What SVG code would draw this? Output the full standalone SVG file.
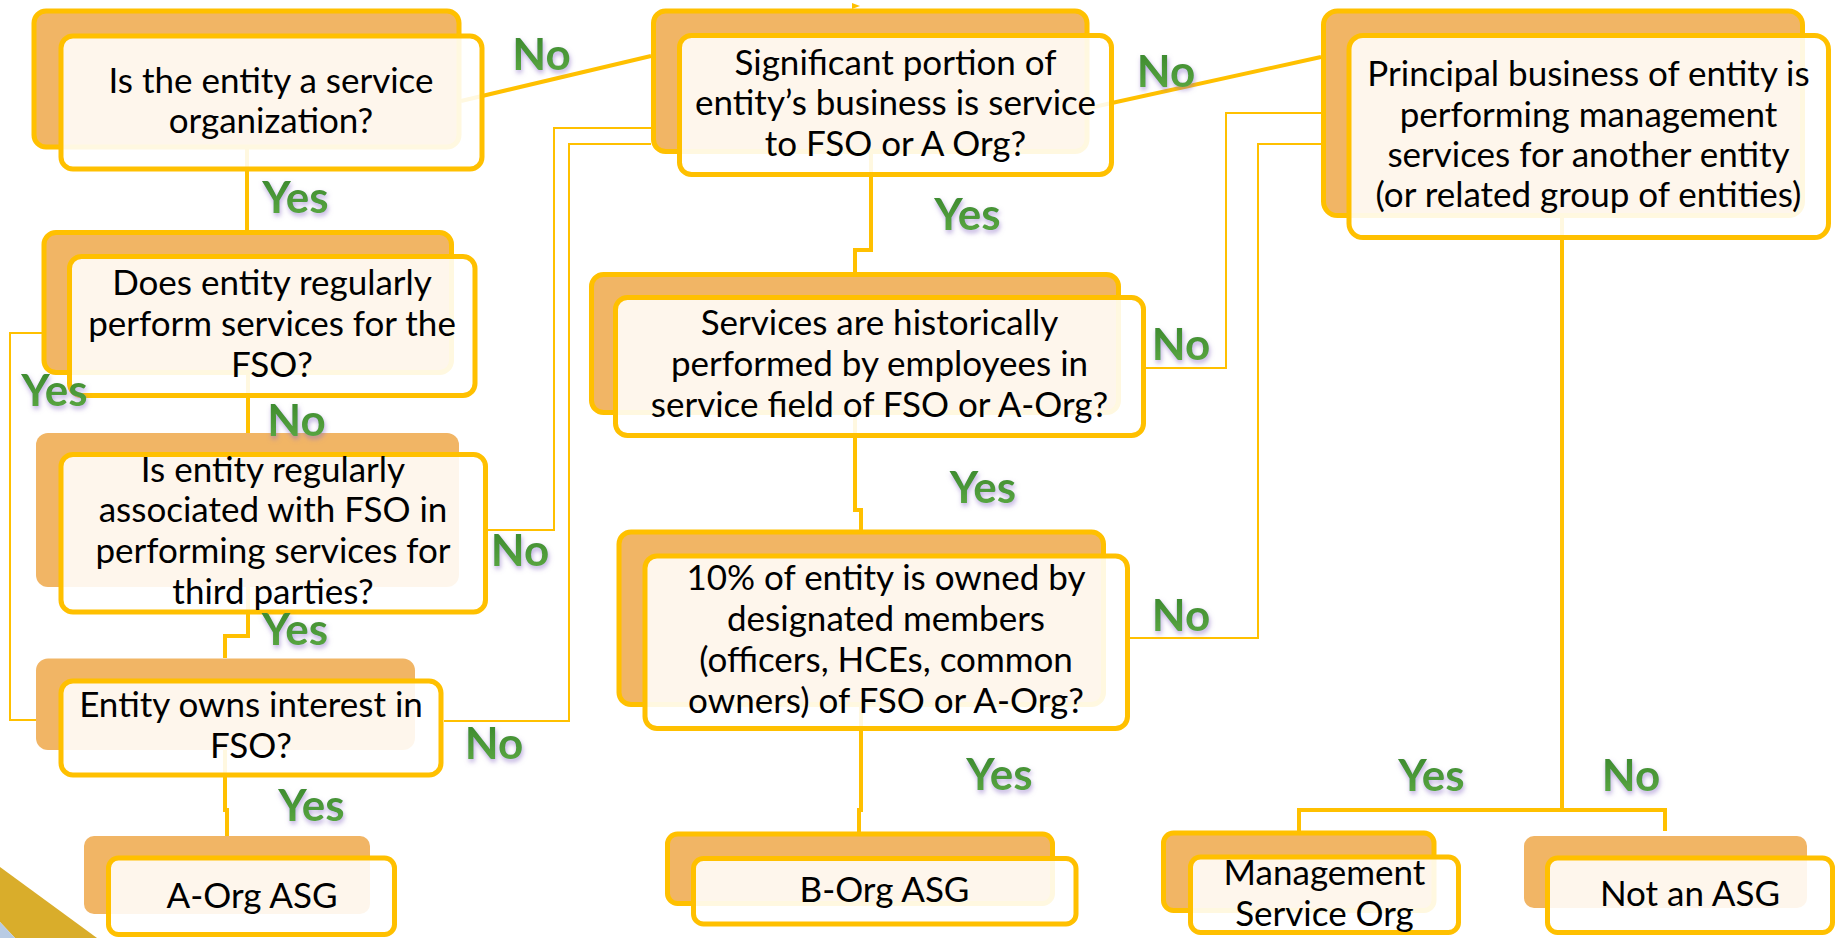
<svg xmlns="http://www.w3.org/2000/svg" width="1839" height="938" viewBox="0 0 1839 938">
  <defs>
    <linearGradient id="greenFill" x1="0" y1="0" x2="0" y2="1">
      <stop offset="0" stop-color="#37842b"/>
      <stop offset="1" stop-color="#5eab44"/>
    </linearGradient>
    <filter id="labelGlow" x="-30%" y="-30%" width="160%" height="170%">
      <feGaussianBlur in="SourceAlpha" stdDeviation="2.5" result="blur"/>
      <feOffset in="blur" dx="1" dy="3" result="off"/>
      <feFlood flood-color="#8c6fc6" flood-opacity="0.6"/>
      <feComposite in2="off" operator="in" result="shadow"/>
      <feMerge>
        <feMergeNode in="shadow"/>
        <feMergeNode in="SourceGraphic"/>
      </feMerge>
    </filter>
    <style>
      .back { fill: #f1b565; stroke: #ffc000; stroke-width: 5; }
      .back-plain { fill: #f1b565; stroke: none; }
      .front { fill: #ffffff; fill-opacity: 0.88; stroke: #ffc000; stroke-width: 5; }
      .txt { font-family: Lato, "Liberation Sans", sans-serif; font-size: 35px; fill: #000000; text-anchor: middle; }
      .lbl { font-family: Lato, "Liberation Sans", sans-serif; font-size: 44px; font-weight: bold; fill: url(#greenFill); text-anchor: middle; filter: url(#labelGlow); }
      .wire { fill: none; stroke: #ffc000; stroke-width: 4; stroke-linejoin: miter; }
      .wire-thin { fill: none; stroke: #ffc000; stroke-width: 2; }
    </style>
  </defs>

  <rect x="0" y="0" width="1839" height="938" fill="#ffffff"/>

  <!-- corner ornament -->
  <polygon points="0,867 97,938 15,938 0,922" fill="#d9ad2b"/>
  <polygon points="0,922 15,938 0,938" fill="#b8cbe3"/>

  <!-- connectors -->
  <g id="connectors">
    <polyline class="wire" points="461,101 651,56"/>
    <polyline class="wire" points="1089,108 1321,57"/>
    <polyline class="wire" points="247,149 247,230"/>
    <polyline class="wire" points="248,375 248,433"/>
    <polyline class="wire" points="248,587 248,636 225,636 225,658"/>
    <polyline class="wire" points="225,750 225,810 227,810 227,836"/>
    <polyline class="wire-thin" points="42,333 10,333 10,720 58,720"/>
    <polyline class="wire-thin" points="488,530 554,530 554,128 651,128"/>
    <polyline class="wire-thin" points="444,721 569,721 569,144 651,144"/>
    <polyline class="wire" points="871,154 871,250 855,250 855,272"/>
    <polyline class="wire" points="855,415 855,510 861,510 861,530"/>
    <polyline class="wire" points="861,707 861,810 859,810 859,832"/>
    <polyline class="wire-thin" points="1146,368 1226,368 1226,113 1321,113"/>
    <polyline class="wire-thin" points="1130,638 1258,638 1258,144 1321,144"/>
    <polyline class="wire" points="1562,218 1562,810"/>
    <polyline class="wire" points="1299,831 1299,810 1665,810 1665,831"/>
    <polygon points="852,3 860,6 852,9" fill="#ffc000"/>
  </g>

  <!-- decision nodes -->
  <g id="n-service-org">
    <rect class="back" x="34" y="11" width="425" height="136" rx="12"/>
    <rect class="front" x="61" y="36" width="421" height="133" rx="12"/>
    <text class="txt" x="271" y="93">Is the entity a service</text>
    <text class="txt" x="271" y="133">organization?</text>
  </g>

  <g id="n-regular-services">
    <rect class="back" x="44" y="232.5" width="407.5" height="140" rx="12"/>
    <rect class="front" x="69.5" y="256.5" width="405.5" height="139" rx="12"/>
    <text class="txt" x="272" y="295">Does entity regularly</text>
    <text class="txt" x="272" y="336">perform services for the</text>
    <text class="txt" x="272" y="377">FSO?</text>
  </g>

  <g id="n-associated">
    <rect class="back-plain" x="36" y="433" width="423" height="154" rx="12"/>
    <rect class="front" x="61" y="454.5" width="424.5" height="157.5" rx="12"/>
    <text class="txt" x="273" y="482">Is entity regularly</text>
    <text class="txt" x="273" y="522">associated with FSO in</text>
    <text class="txt" x="273" y="563">performing services for</text>
    <text class="txt" x="273" y="604">third parties?</text>
  </g>

  <g id="n-owns-interest">
    <rect class="back-plain" x="36" y="658.5" width="379" height="91.5" rx="12"/>
    <rect class="front" x="61" y="681" width="380" height="94" rx="12"/>
    <text class="txt" x="251" y="717">Entity owns interest in</text>
    <text class="txt" x="251" y="758">FSO?</text>
  </g>

  <g id="n-a-org">
    <rect class="back-plain" x="84" y="836" width="286" height="78" rx="10"/>
    <rect class="front" x="108.5" y="858" width="286" height="76.5" rx="10"/>
    <text class="txt" x="252" y="908">A-Org ASG</text>
  </g>

  <g id="n-significant-portion">
    <rect class="back" x="653.5" y="11" width="433.5" height="140.5" rx="12"/>
    <rect class="front" x="679.5" y="35.5" width="432" height="139" rx="12"/>
    <text class="txt" x="895.5" y="75">Significant portion of</text>
    <text class="txt" x="895.5" y="115">entity’s business is service</text>
    <text class="txt" x="895.5" y="156">to FSO or A Org?</text>
  </g>

  <g id="n-historically">
    <rect class="back" x="591.5" y="274.5" width="527" height="138" rx="12"/>
    <rect class="front" x="615.5" y="297.5" width="528" height="138" rx="12"/>
    <text class="txt" x="879.5" y="335">Services are historically</text>
    <text class="txt" x="879.5" y="376">performed by employees in</text>
    <text class="txt" x="879.5" y="417">service field of FSO or A-Org?</text>
  </g>

  <g id="n-ten-percent">
    <rect class="back" x="619" y="532" width="484.5" height="172.5" rx="12"/>
    <rect class="front" x="645" y="556" width="482.5" height="172.5" rx="12"/>
    <text class="txt" x="886" y="590">10% of entity is owned by</text>
    <text class="txt" x="886" y="631">designated members</text>
    <text class="txt" x="886" y="672">(officers, HCEs, common</text>
    <text class="txt" x="886" y="713">owners) of FSO or A-Org?</text>
  </g>

  <g id="n-b-org">
    <rect class="back" x="667.5" y="834" width="385" height="69.5" rx="10"/>
    <rect class="front" x="693.5" y="858.5" width="382.5" height="65.5" rx="10"/>
    <text class="txt" x="884.5" y="902">B-Org ASG</text>
  </g>

  <g id="n-principal-business">
    <rect class="back" x="1323.5" y="11" width="479" height="204.5" rx="14"/>
    <rect class="front" x="1349" y="35.5" width="479.5" height="202" rx="14"/>
    <text class="txt" x="1588.5" y="86">Principal business of entity is</text>
    <text class="txt" x="1588.5" y="127">performing management</text>
    <text class="txt" x="1588.5" y="167">services for another entity</text>
    <text class="txt" x="1588.5" y="207">(or related group of entities)</text>
  </g>

  <g id="n-management-org">
    <rect class="back" x="1163.5" y="833" width="270.5" height="77.5" rx="10"/>
    <rect class="front" x="1190.5" y="857" width="268" height="75.5" rx="10"/>
    <text class="txt" x="1324.5" y="885">Management</text>
    <text class="txt" x="1324.5" y="926">Service Org</text>
  </g>

  <g id="n-not-asg">
    <rect class="back-plain" x="1524" y="836" width="283" height="72" rx="10"/>
    <rect class="front" x="1547.5" y="858" width="285" height="74.5" rx="10"/>
    <text class="txt" x="1690" y="906">Not an ASG</text>
  </g>

  <!-- branch labels -->
  <g id="labels">
    <text class="lbl" x="541.5" y="70">No</text>
    <text class="lbl" x="295.5" y="213">Yes</text>
    <text class="lbl" x="54.5" y="406">Yes</text>
    <text class="lbl" x="296.5" y="436">No</text>
    <text class="lbl" x="520" y="566">No</text>
    <text class="lbl" x="295" y="645">Yes</text>
    <text class="lbl" x="494" y="759">No</text>
    <text class="lbl" x="311.5" y="821">Yes</text>
    <text class="lbl" x="1166" y="87">No</text>
    <text class="lbl" x="967.5" y="230">Yes</text>
    <text class="lbl" x="1181" y="360">No</text>
    <text class="lbl" x="983" y="503">Yes</text>
    <text class="lbl" x="1181" y="631">No</text>
    <text class="lbl" x="999.5" y="790">Yes</text>
    <text class="lbl" x="1431.5" y="791">Yes</text>
    <text class="lbl" x="1631" y="791">No</text>
  </g>
</svg>
